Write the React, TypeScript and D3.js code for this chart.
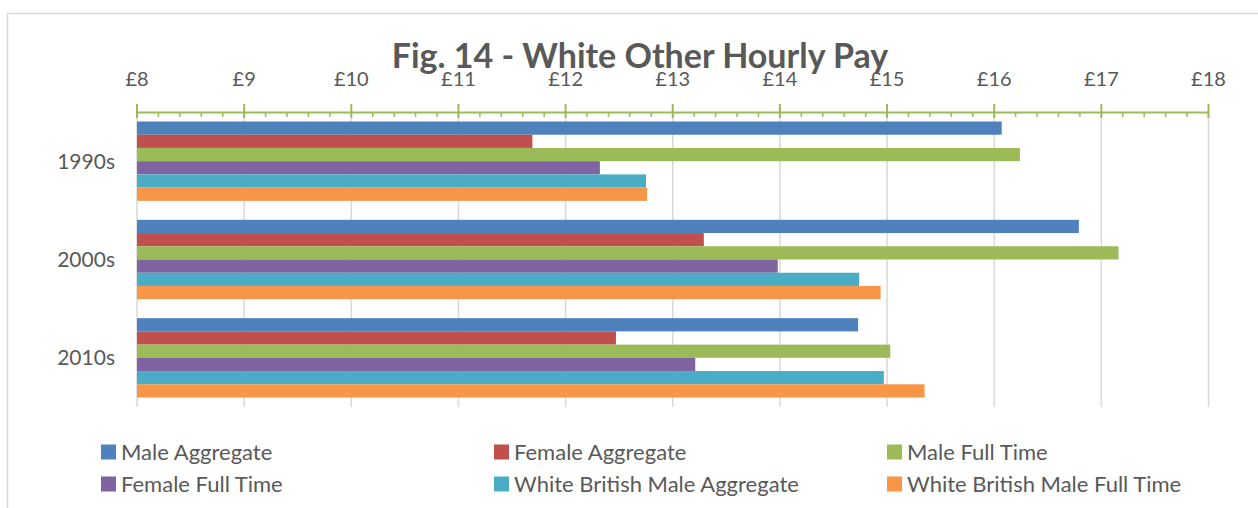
import React from 'react';
import * as d3 from 'd3';

const categories = ['1990s', '2000s', '2010s'];
const seriesNames = [
  'Male Aggregate',
  'Female Aggregate',
  'Male Full Time',
  'Female Full Time',
  'White British Male Aggregate',
  'White British Male Full Time',
];
const maleAggregate = [16.07, 16.79, 14.73];
const femaleAggregate = [11.69, 13.29, 12.47];
const maleFullTime = [16.24, 17.16, 15.03];
const femaleFullTime = [12.32, 13.98, 13.21];
const wbMaleAggregate = [12.75, 14.74, 14.97];
const wbMaleFullTime = [12.76, 14.94, 15.35];
const tickValues = [8, 9, 10, 11, 12, 13, 14, 15, 16, 17, 18];

const colors = ['#4f81bd', '#c0504d', '#9bbb59', '#8064a2', '#4bacc6', '#f79646'];
const FONT = 'Lato, "Open Sans", sans-serif';
const TEXT = '#595959';

export default function App() {
  const width = 1258;
  const height = 508;
  const series = [maleAggregate, femaleAggregate, maleFullTime, femaleFullTime, wbMaleAggregate, wbMaleFullTime];

  const x = d3.scaleLinear().domain([8, 18]).range([137, 1208.5]);
  const y = d3.scaleBand().domain(categories).range([112, 407]).paddingInner(0.193).paddingOuter(0.0965);
  const ys = d3.scaleBand().domain(seriesNames).range([0, y.bandwidth()]);
  const minorTicks = d3.range(8, 18.001, 0.2).filter(v => Math.abs(v - Math.round(v)) > 0.01);

  // legend: 3 columns, 2 rows
  const legendX = [101, 494, 887];
  const legendY = [452, 484];

  return (
    <svg width={width} height={height} style={{ position: 'absolute', left: 0, top: 0, background: '#fff' }}>
      <rect x={7.5} y={13.5} width={1300} height={600} fill="#fff" stroke="#d9d9d9" strokeWidth={1.5} />
      <text x={640} y={68} textAnchor="middle" fontFamily={FONT} fontWeight="bold" fontSize={34} fill={TEXT}>
        Fig. 14 - White Other Hourly Pay
      </text>

      {/* gridlines */}
      {tickValues.map(t => (
        <line key={'g' + t} x1={x(t)} x2={x(t)} y1={112} y2={407} stroke="#d9d9d9" strokeWidth={1.5} />
      ))}

      {/* bars */}
      {categories.map((c, ci) => (
        <g key={c} transform={`translate(0,${y(c)})`}>
          {series.map((vals, si) => (
            <rect
              key={si}
              x={x(8)}
              y={ys(seriesNames[si])}
              width={x(vals[ci]) - x(8)}
              height={ys.bandwidth()}
              fill={colors[si]}
            />
          ))}
        </g>
      ))}

      {/* top axis */}
      <line x1={x(8)} x2={x(18)} y1={112.5} y2={112.5} stroke="#9bbb59" strokeWidth={2} />
      {tickValues.map(t => (
        <line key={'M' + t} x1={x(t)} x2={x(t)} y1={104} y2={118} stroke="#9bbb59" strokeWidth={2} />
      ))}
      {minorTicks.map(t => (
        <line key={'m' + t.toFixed(1)} x1={x(t)} x2={x(t)} y1={112} y2={117} stroke="#9bbb59" strokeWidth={1.5} />
      ))}
      {tickValues.map(t => (
        <text key={'t' + t} x={x(t)} y={86} textAnchor="middle" fontFamily={FONT} fontSize={20} fill={TEXT}>
          £{t}
        </text>
      ))}

      {/* category labels */}
      {categories.map(c => (
        <text key={'c' + c} x={115} y={(y(c) as number) + y.bandwidth() / 2 + 7.5} textAnchor="end" fontFamily={FONT} fontSize={21} fill={TEXT}>
          {c}
        </text>
      ))}

      {/* legend */}
      {seriesNames.map((s, i) => {
        const lx = legendX[i % 3];
        const ly = legendY[Math.floor(i / 3)];
        return (
          <g key={'l' + s}>
            <rect x={lx} y={ly - 7.5} width={15} height={15} fill={colors[i]} />
            <text x={lx + 20} y={ly + 7.5} fontFamily={FONT} fontSize={22} fill={TEXT}>
              {s}
            </text>
          </g>
        );
      })}
    </svg>
  );
}
